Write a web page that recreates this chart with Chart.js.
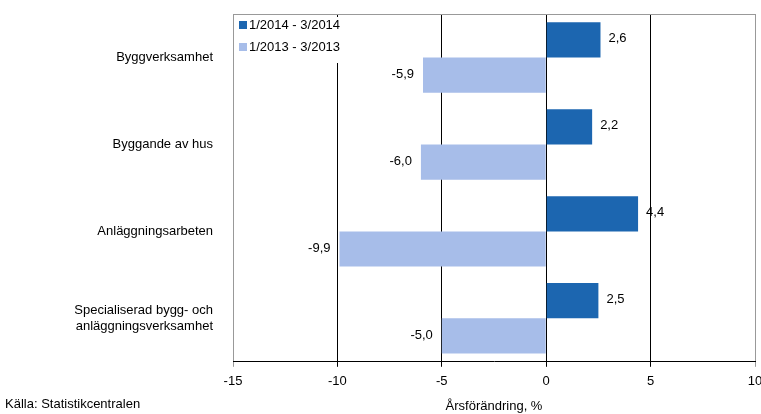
<!DOCTYPE html>
<html>
<head>
<meta charset="utf-8">
<script src="https://cdn.jsdelivr.net/npm/chart.js@4"></script>
<style>
  body { margin: 0; background: #fff; }
  #wrap { position: relative; width: 761px; height: 414px; }
</style>
</head>
<body>
<div id="wrap"><canvas id="chart" width="761" height="414"></canvas></div>
<script>
// Data
const categories = ["Byggverksamhet", "Byggande av hus", "Anläggningsarbeten", ["Specialiserad bygg- och", "anläggningsverksamhet"]];
const series2014 = [2.6, 2.2, 4.4, 2.5];
const series2013 = [-5.9, -6.0, -9.9, -5.0];
const seriesNames = ["1/2014 - 3/2014", "1/2013 - 3/2013"];
const colors = ["#1C66B0", "#A7BDE9"];

const font = "Liberation Sans, Arial, sans-serif";

// värden vid stapelns ände
const valueLabels = {
  id: "valueLabels",
  afterDatasetsDraw(chart) {
    const ctx = chart.ctx;
    ctx.save();
    ctx.font = "13px " + font;
    ctx.fillStyle = "#000";
    ctx.textBaseline = "middle";
    chart.data.datasets.forEach((ds, i) => {
      chart.getDatasetMeta(i).data.forEach((bar, j) => {
        const v = ds.data[j];
        const txt = v.toFixed(1).replace(".", ",");
        if (v >= 0) {
          ctx.textAlign = "left";
          ctx.fillText(txt, bar.x + 8, bar.y - 1);
        } else {
          ctx.textAlign = "right";
          ctx.fillText(txt, bar.x - 9, bar.y - 1);
        }
      });
    });
    ctx.restore();
  }
};

// legend i rutan + ram upptill + källa
const extras = {
  id: "extras",
  beforeDatasetsDraw(chart) {
    const ctx = chart.ctx;
    const a = chart.chartArea;
    ctx.save();
    ctx.fillStyle = "#fff";
    ctx.fillRect(a.left + 1, a.top + 3, 150, 46);
    ctx.strokeStyle = "#999";
    ctx.lineWidth = 1;
    ctx.beginPath();
    ctx.moveTo(a.left, a.top + 0.5);
    ctx.lineTo(a.right, a.top + 0.5);
    ctx.stroke();
    ctx.font = "13px " + font;
    ctx.textBaseline = "middle";
    ctx.textAlign = "left";
    seriesNames.forEach((n, i) => {
      const y = a.top + 11 + i * 22;
      ctx.fillStyle = colors[i];
      ctx.fillRect(a.left + 6, y - 4, 8, 8);
      ctx.fillStyle = "#000";
      ctx.fillText(n, a.left + 16, y);
    });
    ctx.restore();
  },
  afterDraw(chart) {
    const ctx = chart.ctx;
    ctx.save();
    ctx.font = "13px " + font;
    ctx.fillStyle = "#000";
    ctx.textBaseline = "middle";
    ctx.textAlign = "left";
    ctx.fillText("Källa: Statistikcentralen", 5, 404);
    ctx.restore();
  }
};

new Chart(document.getElementById("chart"), {
  type: "bar",
  data: {
    labels: categories,
    datasets: [
      { label: seriesNames[0], data: series2014, backgroundColor: colors[0] },
      { label: seriesNames[1], data: series2013, backgroundColor: colors[1] }
    ]
  },
  options: {
    indexAxis: "y",
    responsive: false,
    animation: false,
    layout: { padding: { top: 14, right: 6, bottom: 0, left: 0 } },
    datasets: { bar: { categoryPercentage: 0.81, barPercentage: 1.0 } },
    plugins: { legend: { display: false }, tooltip: { enabled: false } },
    scales: {
      x: {
        min: -15, max: 10,
        ticks: { stepSize: 5, color: "#000", font: { family: font, size: 13 }, padding: 7 },
        grid: {
          color: c => (c.index === 0 || c.tick && c.tick.value === 10) ? "#999" : "#000",
          tickLength: 5
        },
        border: { color: "#000" },
        title: { display: true, text: "Årsförändring, %", color: "#000", font: { family: font, size: 13 }, padding: { top: 2, bottom: 0 } },
        afterFit: s => { s.paddingRight = 0; s.paddingLeft = 0; }
      },
      y: {
        grid: { display: false },
        border: { display: false },
        ticks: { color: "#000", font: { family: font, size: 13 }, padding: 12 },
        afterFit: s => { s.width = 233; s.paddingTop = 0; s.paddingBottom = 0; }
      }
    }
  },
  plugins: [extras, valueLabels]
});
</script>
</body>
</html>
